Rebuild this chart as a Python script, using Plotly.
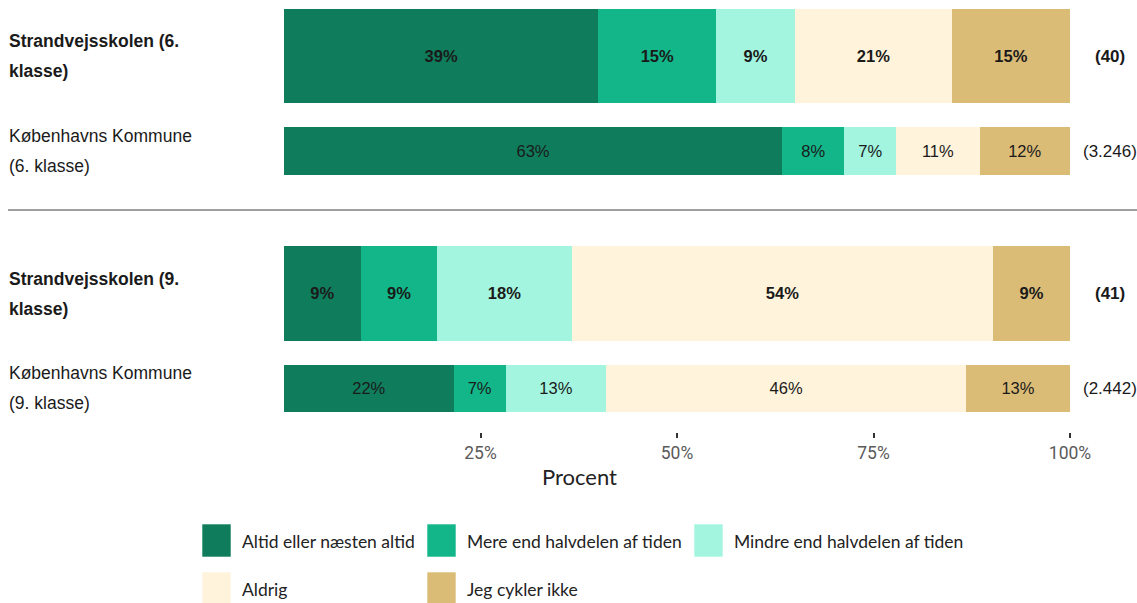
import textwrap
import plotly.graph_objects as go

# ---------------- data ----------------
categories = ["Altid eller næsten altid", "Mere end halvdelen af tiden",
              "Mindre end halvdelen af tiden", "Aldrig", "Jeg cykler ikke"]
colors = ["#0F7D5C", "#12B688", "#A3F5DF", "#FFF4DB", "#DBBC77"]

rows_6 = ["Strandvejsskolen (6. klasse)", "Københavns Kommune (6. klasse)"]
rows_9 = ["Strandvejsskolen (9. klasse)", "Københavns Kommune (9. klasse)"]

# shares per row (percent), one list per category order above
school_6 = [40.0, 15.0, 10.0, 20.0, 15.0]
kommune_6 = [63.4, 7.9, 6.6, 10.6, 11.5]
school_9 = [9.76, 9.76, 17.07, 53.66, 9.75]
kommune_9 = [21.6, 6.6, 12.8, 45.8, 13.2]

# printed labels
school_6_lbl = ["39%", "15%", "9%", "21%", "15%"]
kommune_6_lbl = ["63%", "8%", "7%", "11%", "12%"]
school_9_lbl = ["9%", "9%", "18%", "54%", "9%"]
kommune_9_lbl = ["22%", "7%", "13%", "46%", "13%"]

n_6 = ["(40)", "(3.246)"]
n_9 = ["(41)", "(2.442)"]

tick_vals = [25, 50, 75, 100]
tick_text = ["25%", "50%", "75%", "100%"]
x_title = "Procent"

# ---------------- layout geometry ----------------
W, H = 1137, 603
ML, MR, MT, MB = 284, 67, 0, 171
PW, PH = W - ML - MR, H - MT - MB
UNIT = 95.0  # px per category on y axes


def px_x(p):
    return (p - ML) / PW


def px_y(p):
    return 1 - (p - MT) / PH


TXT = "#1a1a1a"
ARIAL = "Liberation Sans, Arial, sans-serif"
LATO = "Lato, sans-serif"

fig = go.Figure()

groups = [
    ("y", rows_6, [school_6, kommune_6], [school_6_lbl, kommune_6_lbl], [0.99, 0.505]),
    ("y2", rows_9, [school_9, kommune_9], [school_9_lbl, kommune_9_lbl], [1.0, 0.505]),
]

for yref, rows, vals, lbls, widths in groups:
    for ci, cat in enumerate(categories):
        xs = [vals[r][ci] for r in range(len(rows))]
        texts = [("<b>%s</b>" % lbls[r][ci]) if r == 0 else lbls[r][ci]
                 for r in range(len(rows))]
        fig.add_trace(go.Bar(
            x=xs, y=rows, orientation="h", name=cat,
            marker=dict(color=colors[ci], line=dict(width=0)),
            width=widths, text=texts, textposition="inside",
            insidetextanchor="middle", textangle=0,
            constraintext="none",
            textfont=dict(family=ARIAL, size=16.5, color=TXT),
            xaxis="x", yaxis=yref, showlegend=False,
            hovertemplate="%{y}<br>" + cat + ": %{x:.1f}%<extra></extra>",
        ))

annotations = []
shapes = []

# row labels (left) and counts (right)
for yref, rows, ns in [("y", rows_6, n_6), ("y2", rows_9, n_9)]:
    for r, name in enumerate(rows):
        lines = textwrap.wrap(name, width=20)
        bold = r == 0
        offs = [(-0.5 + i) * 30.0 / UNIT for i in range(len(lines))] if len(lines) == 2 else [0]
        for line, off in zip(lines, offs):
            annotations.append(dict(
                text=("<b>%s</b>" % line) if bold else line,
                xref="paper", yref=yref, x=px_x(7), y=r + off,
                xanchor="left", yanchor="middle", showarrow=False,
                font=dict(family=ARIAL, size=17.5, color=TXT)))
        annotations.append(dict(
            text=("<b>%s</b>" % ns[r]) if bold else ns[r],
            xref="paper", yref=yref, x=px_x(1109.5), y=r,
            xanchor="center", yanchor="middle", showarrow=False,
            font=dict(family=ARIAL, size=17, color=TXT)))

# x axis title
annotations.append(dict(text=x_title, xref="paper", yref="paper",
                        x=px_x(579), y=px_y(476), xanchor="center", yanchor="middle",
                        showarrow=False, font=dict(family=LATO, size=22, color="#222222")))

# separator line
shapes.append(dict(type="line", xref="paper", yref="paper",
                   x0=px_x(8), x1=px_x(1137), y0=px_y(210), y1=px_y(210),
                   line=dict(color="#A0A0A0", width=2)))

# custom legend (3 per row)
sq_x = [202, 427, 694]
row_top = [524, 572]
for i, cat in enumerate(categories):
    col, row = i % 3, i // 3
    x0 = sq_x[col]
    y0 = row_top[row]
    shapes.append(dict(type="rect", xref="paper", yref="paper",
                       x0=px_x(x0), x1=px_x(x0 + 29), y0=px_y(y0), y1=px_y(y0 + 33),
                       fillcolor=colors[i], line=dict(color="rgba(255,255,255,0.6)", width=1)))
    annotations.append(dict(text=cat, xref="paper", yref="paper",
                            x=px_x(x0 + 38), y=px_y(y0 + 17), xanchor="left", yanchor="middle",
                            showarrow=False, font=dict(family=LATO, size=17.5, color="#222222")))

fig.update_layout(
    width=W, height=H,
    margin=dict(l=ML, r=MR, t=MT, b=MB),
    barmode="stack",
    plot_bgcolor="white", paper_bgcolor="white",
    showlegend=False,
    xaxis=dict(range=[0, 100], anchor="y2", tickvals=tick_vals, ticktext=tick_text,
               ticks="outside", ticklen=5, tickwidth=1.5, tickcolor="#333333",
               showgrid=False, zeroline=False, showline=False,
               tickfont=dict(family="Roboto, sans-serif", size=17.5, color="#5a5a5a")),
    yaxis=dict(domain=[px_y(198.5), px_y(8.5)], type="category",
               categoryorder="array", categoryarray=rows_6,
               range=[1.5, -0.5], showticklabels=False, showgrid=False,
               zeroline=False, showline=False, anchor="x"),
    yaxis2=dict(domain=[0, px_y(246)], type="category",
                categoryorder="array", categoryarray=rows_9,
                range=[1.458, -0.5], showticklabels=False, showgrid=False,
                zeroline=False, showline=False, anchor="x"),
    annotations=annotations,
    shapes=shapes,
)

fig.write_html("out.html", config={"displayModeBar": False},
               post_script="document.body.style.margin='0px';document.body.style.overflow='hidden';")
